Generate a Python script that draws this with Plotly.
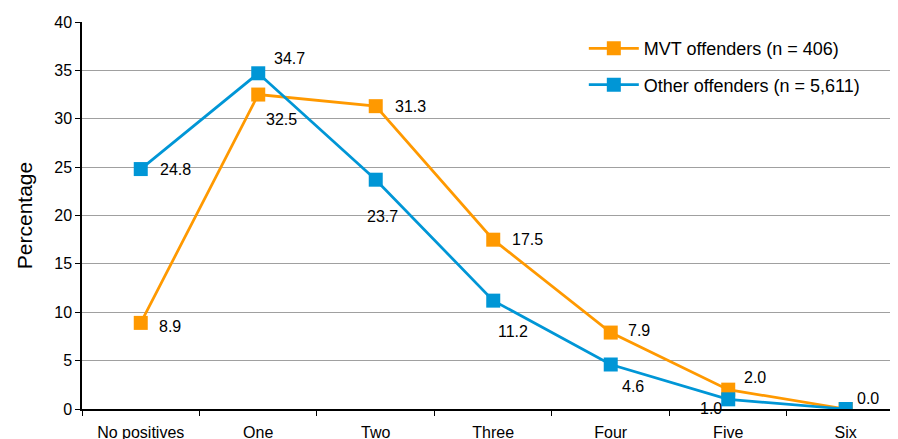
import plotly.graph_objects as go

categories = ["No positives", "One", "Two", "Three", "Four", "Five", "Six"]
mvt_values = [8.9, 32.5, 31.3, 17.5, 7.9, 2.0, 0.0]
other_values = [24.8, 34.7, 23.7, 11.2, 4.6, 1.0, 0.0]
mvt_name = "MVT offenders (n = 406)"
other_name = "Other offenders (n = 5,611)"
y_ticks = [0, 5, 10, 15, 20, 25, 30, 35, 40]

ORANGE = "#FF9900"
BLUE = "#0096D6"
FONT = "Liberation Sans, Arial, sans-serif"

# label pixel offsets (xshift, yshift, xanchor, shown)
mvt_offsets = [(16, -4, "left", True), (23, -25, "center", True), (17, 0, "left", True),
               (17, 0, "left", True), (15, 2, "left", True), (14, 12, "left", True),
               (9, 11, "left", True)]
other_offsets = [(17, 0, "left", True), (14, 15, "left", True), (7, -37, "center", True),
                 (20, -31, "center", True), (22, -22, "center", True), (-17, -9, "center", True),
                 (9, 11, "left", False)]

fig = go.Figure()
fig.add_trace(go.Scatter(
    x=categories, y=mvt_values, name=mvt_name, mode="lines+markers",
    line=dict(color=ORANGE, width=2.75),
    marker=dict(symbol="square", size=14, color=ORANGE),
    legendgroup="a",
))
fig.add_trace(go.Scatter(
    x=categories, y=other_values, name=other_name, mode="lines+markers",
    line=dict(color=BLUE, width=2.75),
    marker=dict(symbol="square", size=14, color=BLUE),
    legendgroup="b",
))

annotations = []
for vals, offs in ((mvt_values, mvt_offsets), (other_values, other_offsets)):
    for c, v, (dx, dy, xa, shown) in zip(categories, vals, offs):
        if not shown:
            continue
        annotations.append(dict(
            x=c, y=v, text=f"{v:.1f}", showarrow=False,
            xshift=dx, yshift=dy, xanchor=xa, yanchor="middle",
            font=dict(family=FONT, size=16, color="#000000"),
        ))

fig.update_layout(
    width=898, height=439,
    margin=dict(l=74, r=0, t=14, b=38, autoexpand=False),
    paper_bgcolor="white", plot_bgcolor="white",
    font=dict(family=FONT, size=16, color="#000000"),
    showlegend=True,
    legend=dict(
        x=0.609, y=0.979, xanchor="left", yanchor="top",
        bgcolor="rgba(255,255,255,0)",
        font=dict(family=FONT, size=18, color="#000000"),
        traceorder="grouped", tracegroupgap=10,
        itemwidth=50,
    ),
    annotations=annotations,
    shapes=[dict(type="rect", xref="paper", yref="paper",
                 x0=0.568, x1=1.0, y0=0.77, y1=0.99,
                 fillcolor="white", line=dict(width=0), layer="between")],
    xaxis=dict(
        type="category", range=[-0.5, 6.513],
        showline=True, linecolor="#000000", linewidth=1.5,
        ticks="outside", ticklen=5, tickcolor="#000000", tickwidth=1,
        tickson="boundaries", showgrid=False, ticklabelstandoff=8,
        tickfont=dict(family=FONT, size=16, color="#000000"),
        zeroline=False, automargin=False,
    ),
    yaxis=dict(
        range=[0, 40], tickvals=y_ticks,
        showline=True, linecolor="#000000", linewidth=1.5,
        ticks="outside", ticklen=5, tickcolor="#000000", tickwidth=1,
        showgrid=True, gridcolor="#A0A0A0", gridwidth=1,
        zeroline=False, automargin=False,
        tickfont=dict(family=FONT, size=16, color="#000000"),
        title=dict(text="Percentage", font=dict(family=FONT, size=21, color="#000000"), standoff=16),
    ),
)

fig.write_html("out.html")
